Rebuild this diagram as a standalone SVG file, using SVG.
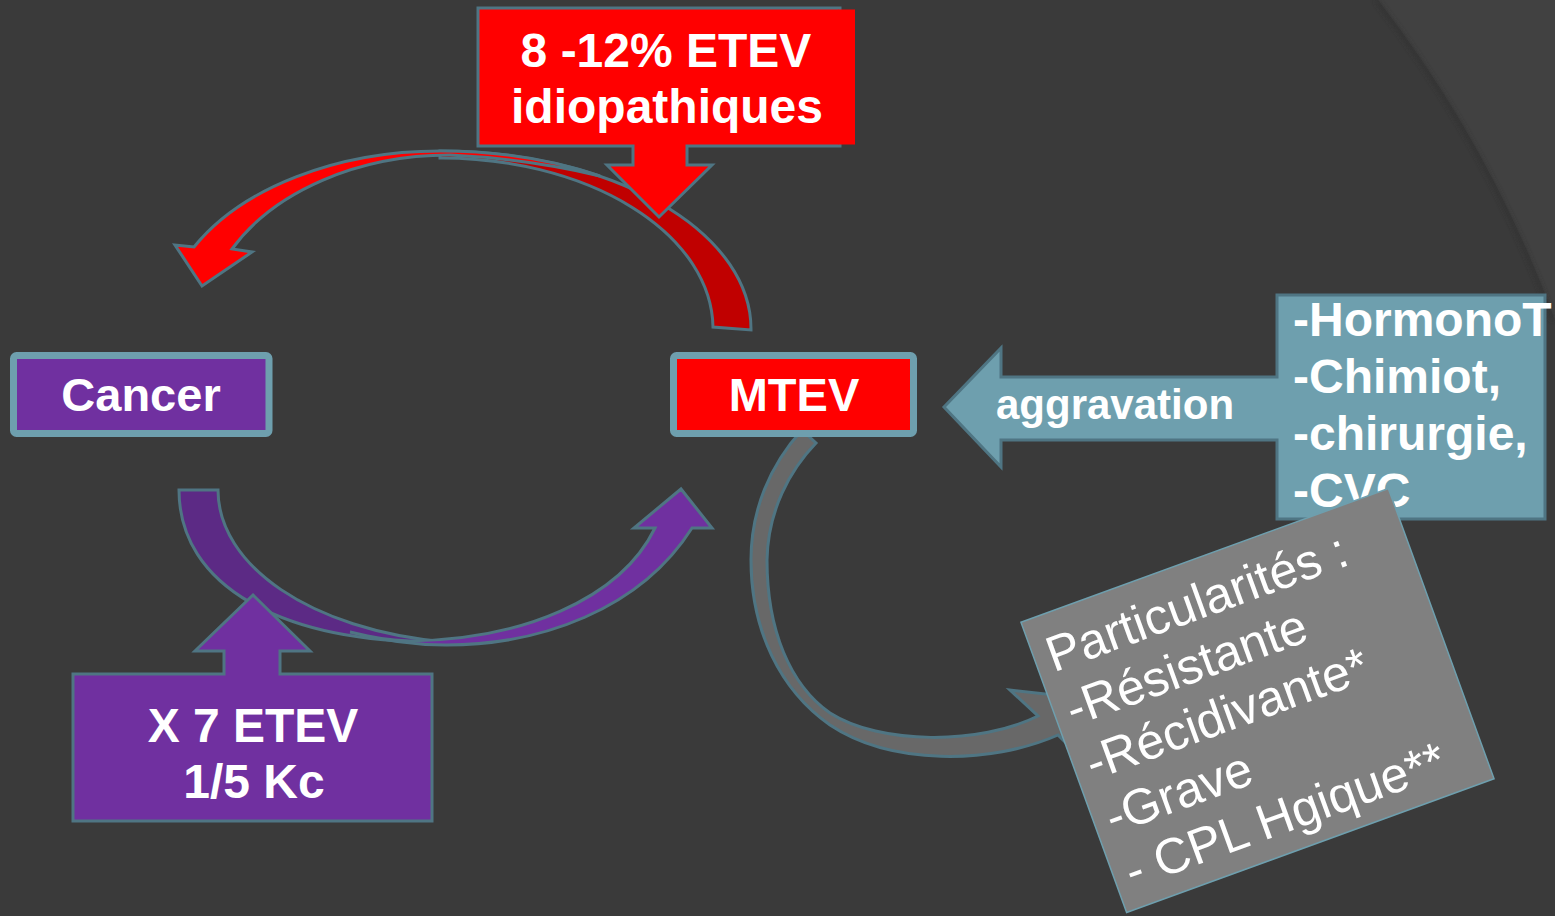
<svg xmlns="http://www.w3.org/2000/svg" width="1555" height="916" viewBox="0 0 1555 916">
<defs>
<style>
.ol{stroke:#4f7583;stroke-width:3;stroke-linejoin:miter}
.tb{font-family:"Liberation Sans",Arial,sans-serif;font-weight:bold;fill:#ffffff}
.tr{font-family:"Liberation Sans",Arial,sans-serif;font-weight:normal;fill:#ffffff}
.frame{stroke:#6e9fae;stroke-width:7}
</style>
<filter id="blur" x="-10%" y="-10%" width="120%" height="120%"><feGaussianBlur stdDeviation="2"/></filter>
</defs>
<rect x="0" y="0" width="1555" height="916" fill="#3a3a3a"/>
<path d="M1378,0 A1200 1200 0 0 1 1555,320 L1555,0 Z" fill="#414141"/>
<path d="M1376,0 A1200 1200 0 0 1 1553,320" fill="none" stroke="#303030" stroke-width="4" opacity="0.7" filter="url(#blur)"/>

<g id="connectors">
  <path class="ol" fill="#c00000" d="M751,330 A311 178 0 0 0 440,151 L440,158 A272 171 0 0 1 713,327 Z"/>
  <path class="ol" fill="#ff0000" d="M600,176 A311 178 0 0 0 440,151 A277 178 0 0 0 194,247 L175,245 L202,286 L252,252 L232,249 A245 174 0 0 1 450,155 Q530,159 600,176 Z"/>
  <path class="ol" fill="#5c2a85" d="M179,490 L218,490 C218,565 310,630 446,642 C280,644 179,585 179,490 Z"/>
  <path class="ol" fill="#7030a0" d="M350,632 Q400,645 446,645 C540,645 640,610 692,528 L712,528 L681,489 L634,528 L655,528 C620,600 520,640 409,641 Q380,640 350,632 Z"/>
  <path class="ol" fill="#686868" d="M802,430 C770,465 751,510 751,560 C751,630 780,690 830,725 C890,765 990,765 1058,735 L1085,762 L1100,700 L1010,690 L1038,716 C980,745 880,745 830,713 C790,685 767,630 767,560 C768,510 790,470 816,443 Z"/>
</g>

<g id="node-cancer">
  <rect class="frame" x="13.5" y="355.5" width="255.5" height="78" rx="3" fill="#7030a0"/>
  <text class="tb" x="141" y="411" font-size="47" text-anchor="middle">Cancer</text>
</g>

<g id="node-mtev">
  <rect class="frame" x="673.5" y="355.5" width="240" height="78" rx="3" fill="#ff0000"/>
  <text class="tb" x="794" y="411" font-size="47" text-anchor="middle">MTEV</text>
</g>

<g id="node-idiopathiques">
  <path class="ol" fill="#ff0000" d="M478,8 H840 V146 H687 V165 H712 L659,217 L607,165 H633 V146 H478 Z"/>
  <rect x="838" y="9.5" width="17" height="135" fill="#ff0000"/>
  <text class="tb" x="666" y="67" font-size="48" text-anchor="middle">8 -12% ETEV</text>
  <text class="tb" x="667" y="123" font-size="48" text-anchor="middle">idiopathiques</text>
</g>

<g id="node-x7">
  <path class="ol" fill="#7030a0" d="M73,674 H224 V651 H195 L253,595 L310,651 H280 V674 H432 V821 H73 Z"/>
  <text class="tb" x="253" y="742" font-size="48" text-anchor="middle">X 7 ETEV</text>
  <text class="tb" x="254" y="798" font-size="48" text-anchor="middle">1/5 Kc</text>
</g>

<g id="node-aggravation">
  <path class="ol" fill="#6e9fae" d="M1277,295 H1545 V519 H1277 V440 H1001 V467 L944,407 L1001,348 V377 H1277 Z"/>
  <text class="tb" x="996" y="419" font-size="42">aggravation</text>
  <text class="tb" x="1293" y="336" font-size="48">-HormonoT</text>
  <text class="tb" x="1293" y="393" font-size="48">-Chimiot,</text>
  <text class="tb" x="1293" y="450" font-size="48">-chirurgie,</text>
  <text class="tb" x="1293" y="507" font-size="48">-CVC</text>
</g>

<g id="node-particularites" transform="translate(1257.5,700.5) rotate(-20)">
  <rect x="-195.5" y="-154.5" width="391" height="309" fill="#808080" stroke="#6e9fae" stroke-width="1.5"/>
  <text class="tr" x="-182" y="-96" font-size="50">Particularités :</text>
  <text class="tr" x="-182" y="-38.5" font-size="50">-Résistante</text>
  <text class="tr" x="-182" y="19" font-size="50">-Récidivante*</text>
  <text class="tr" x="-182" y="76.5" font-size="50">-Grave</text>
  <text class="tr" x="-182" y="134" font-size="50">- CPL Hgique**</text>
</g>
</svg>
